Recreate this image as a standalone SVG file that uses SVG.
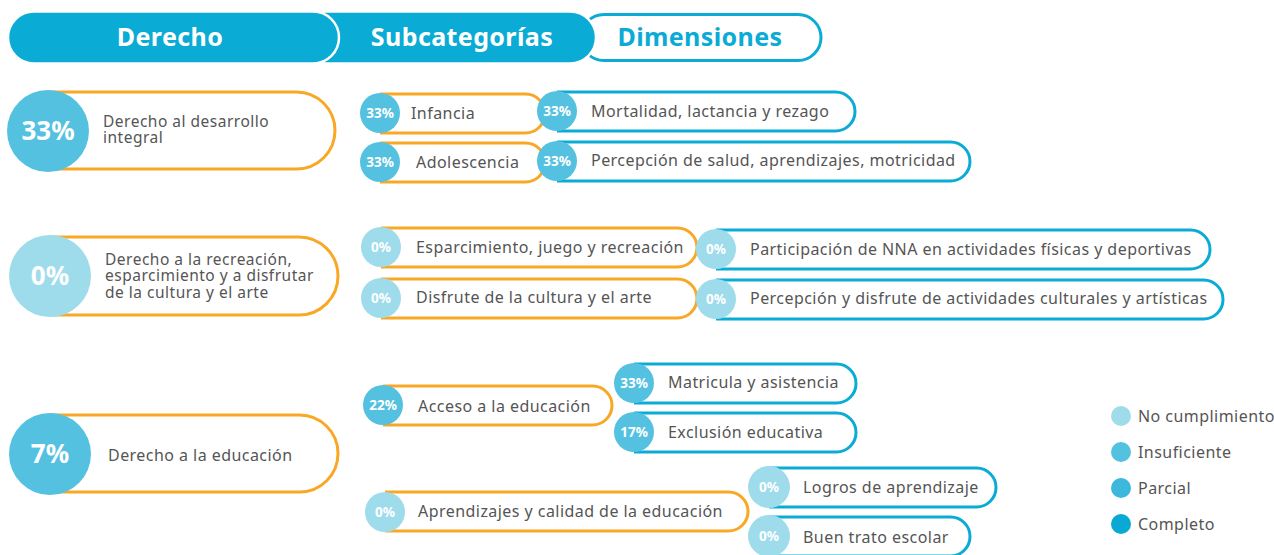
<svg xmlns="http://www.w3.org/2000/svg" width="1274" height="555" viewBox="0 0 1274 555">
<style>
.o{fill:#fff;stroke:#F9A825;stroke-width:3}
.b{fill:#fff;stroke:#0AABD4;stroke-width:3}
.nc{fill:#9EDCEC}
.in{fill:#55C1E1}
.pa{fill:#3BB8DB}
.co{fill:#0AA9D3}
.t{font-family:"Noto Sans",sans-serif;font-size:16px;letter-spacing:0.45px;fill:#555}
.m{font-size:15.5px;letter-spacing:0.5px}
.p{font-family:"Noto Sans",sans-serif;font-weight:bold;fill:#fff;text-anchor:middle}
.ps{font-size:13.5px}
.pl{font-size:26px}
.h{font-family:"Noto Sans",sans-serif;font-weight:bold;font-size:25px;letter-spacing:0.4px;text-anchor:middle}
</style>
<rect width="1274" height="555" fill="#fff"/>
<g id="header">
<rect x="581" y="14.5" width="240" height="46" rx="23" fill="#fff" stroke="#0AABD4" stroke-width="3"/>
<rect x="300" y="11.5" width="296" height="52" rx="26" fill="#0AABD4" stroke="#fff" stroke-width="2.5"/>
<rect x="8" y="11.5" width="331" height="52" rx="26" fill="#0AABD4" stroke="#fff" stroke-width="2.5"/>
<text class="h" x="170" y="46" fill="#fff">Derecho</text>
<text class="h" x="462" y="46" fill="#fff">Subcategorías</text>
<text class="h" x="700" y="46" fill="#0AABD4">Dimensiones</text>
</g>
<g id="connectors"></g>
<g id="d1">
<path class="o" d="M48 92 H296.5 A38.5 38.5 0 0 1 296.5 169 H48"/>
<circle class="in" cx="48" cy="131" r="41"/>
<text class="p pl" x="48" y="140">33%</text>
<text class="t m" x="103" y="126.5">Derecho al desarrollo</text>
<text class="t m" x="103" y="143">integral</text>
</g>
<g id="s-infancia">
<path class="o" d="M380 94 H525.5 A19.5 19.5 0 0 1 525.5 133 H380"/>
<circle class="in" cx="380" cy="113" r="20"/>
<text class="p ps" x="380" y="118">33%</text>
<text class="t" x="411" y="119">Infancia</text>
</g>
<g id="s-adolescencia">
<path class="o" d="M380 143 H525.5 A19.5 19.5 0 0 1 525.5 182 H380"/>
<circle class="in" cx="380" cy="162" r="20"/>
<text class="p ps" x="380" y="167">33%</text>
<text class="t" x="416" y="168">Adolescencia</text>
</g>
<g id="dm-mortalidad">
<path class="b" d="M557 92 H835.5 A19.5 19.5 0 0 1 835.5 131 H557"/>
<circle class="in" cx="557" cy="111" r="20"/>
<text class="p ps" x="557" y="116">33%</text>
<text class="t" x="591" y="117">Mortalidad, lactancia y rezago</text>
</g>
<g id="dm-percepcion-salud">
<path class="b" d="M557 142 H950.5 A19.5 19.5 0 0 1 950.5 181 H557"/>
<circle class="in" cx="557" cy="161" r="20"/>
<text class="p ps" x="557" y="166">33%</text>
<text class="t" x="591" y="166">Percepción de salud, aprendizajes, motricidad</text>
</g>
<g id="d2">
<path class="o" d="M50 237 H299 A39 39 0 0 1 299 315 H50"/>
<circle class="nc" cx="50" cy="276" r="41"/>
<text class="p pl" x="50" y="285">0%</text>
<text class="t m" x="105" y="264.5">Derecho a la recreación,</text>
<text class="t m" x="105" y="281">esparcimiento y a disfrutar</text>
<text class="t m" x="105" y="297.5">de la cultura y el arte</text>
</g>
<g id="s-esparcimiento">
<path class="o" d="M381 228 H677.5 A19.5 19.5 0 0 1 677.5 267 H381"/>
<circle class="nc" cx="381" cy="247" r="20"/>
<text class="p ps" x="381" y="252">0%</text>
<text class="t" x="416" y="253">Esparcimiento, juego y recreación</text>
</g>
<g id="s-disfrute">
<path class="o" d="M381 279 H677.5 A19.5 19.5 0 0 1 677.5 318 H381"/>
<circle class="nc" cx="381" cy="298" r="20"/>
<text class="p ps" x="381" y="303">0%</text>
<text class="t" x="416" y="303">Disfrute de la cultura y el arte</text>
</g>
<g id="dm-participacion">
<path class="b" d="M716 230 H1190.5 A19.5 19.5 0 0 1 1190.5 269 H716"/>
<circle class="nc" cx="716" cy="249" r="20"/>
<text class="p ps" x="716" y="254">0%</text>
<text class="t" x="750" y="255">Participación de NNA en actividades físicas y deportivas</text>
</g>
<g id="dm-percepcion-disfrute">
<path class="b" d="M716 280 H1203.5 A19.5 19.5 0 0 1 1203.5 319 H716"/>
<circle class="nc" cx="716" cy="299" r="20"/>
<text class="p ps" x="716" y="304">0%</text>
<text class="t" x="750" y="304">Percepción y disfrute de actividades culturales y artísticas</text>
</g>
<g id="d3">
<path class="o" d="M50 415 H299.5 A38.5 38.5 0 0 1 299.5 492 H50"/>
<circle class="in" cx="50" cy="454" r="41"/>
<text class="p pl" x="50" y="463">7%</text>
<text class="t" x="108" y="461">Derecho a la educación</text>
</g>
<g id="s-acceso">
<path class="o" d="M383 386 H592.5 A19.5 19.5 0 0 1 592.5 425 H383"/>
<circle class="in" cx="383" cy="405" r="20"/>
<text class="p ps" x="383" y="410">22%</text>
<text class="t" x="418" y="412">Acceso a la educación</text>
</g>
<g id="dm-matricula">
<path class="b" d="M634 364 H836.5 A19.5 19.5 0 0 1 836.5 403 H634"/>
<circle class="in" cx="634" cy="383" r="20"/>
<text class="p ps" x="634" y="388">33%</text>
<text class="t" x="668" y="388">Matricula y asistencia</text>
</g>
<g id="dm-exclusion">
<path class="b" d="M634 413 H836.5 A19.5 19.5 0 0 1 836.5 452 H634"/>
<circle class="in" cx="634" cy="432" r="20"/>
<text class="p ps" x="634" y="437">17%</text>
<text class="t" x="668" y="438">Exclusión educativa</text>
</g>
<g id="s-aprendizajes">
<path class="o" d="M385 492 H728.5 A19.5 19.5 0 0 1 728.5 531 H385"/>
<circle class="nc" cx="385" cy="512" r="20"/>
<text class="p ps" x="385" y="517">0%</text>
<text class="t" x="418" y="517">Aprendizajes y calidad de la educación</text>
</g>
<g id="dm-logros">
<path class="b" d="M769 468 H976.5 A19.5 19.5 0 0 1 976.5 507 H769"/>
<circle class="nc" cx="769" cy="487" r="21"/>
<text class="p ps" x="769" y="492">0%</text>
<text class="t" x="803" y="493">Logros de aprendizaje</text>
</g>
<g id="dm-buen-trato">
<path class="b" d="M769 517 H950.5 A19.5 19.5 0 0 1 950.5 556 H769"/>
<circle class="nc" cx="769" cy="536" r="21"/>
<text class="p ps" x="769" y="541">0%</text>
<text class="t" x="803" y="543">Buen trato escolar</text>
</g>
<g id="legend">
<circle class="nc" cx="1121" cy="416" r="10"/>
<text class="t" x="1138" y="422">No cumplimiento</text>
<circle class="in" cx="1121" cy="452" r="10"/>
<text class="t" x="1138" y="458">Insuficiente</text>
<circle class="pa" cx="1121" cy="488" r="10"/>
<text class="t" x="1138" y="494">Parcial</text>
<circle class="co" cx="1121" cy="524" r="10"/>
<text class="t" x="1138" y="530">Completo</text>
</g>
</svg>
